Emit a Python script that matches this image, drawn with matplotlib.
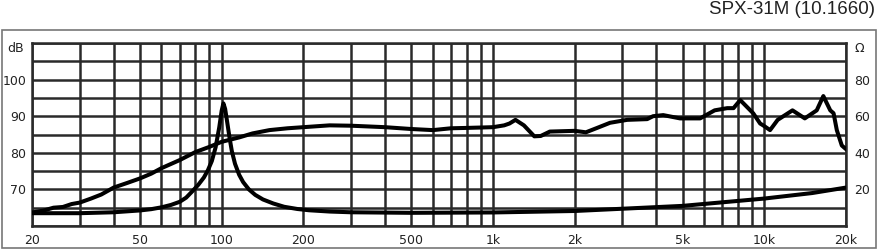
import matplotlib
matplotlib.use("Agg")
import matplotlib.pyplot as plt
from matplotlib.patches import Rectangle
from matplotlib.ticker import FixedLocator, NullFormatter

# Frequency response (dB)
spl_freq = [20, 22, 24, 26, 28, 30, 33, 36, 40, 45, 50, 55, 60, 70, 80, 90, 100,
            116, 130, 150, 175, 200, 250, 300, 400, 500, 600, 700, 800, 1000,
            1100, 1150, 1210, 1300, 1420, 1500, 1620, 2000, 2200, 2420, 2700,
            3120, 3700, 3890, 4240, 4890, 5800, 6560, 7300, 7700, 8150, 9100,
            9650, 9900, 10500, 11200, 12700, 14100, 15600, 16500, 17500, 18000,
            18500, 19300, 20000]
spl_db = [63.7, 64.2, 65.0, 65.2, 66.0, 66.4, 67.5, 68.6, 70.5, 71.8, 73.0, 74.3,
          75.8, 78.0, 80.2, 81.6, 83.0, 84.2, 85.3, 86.2, 86.7, 87.0, 87.5, 87.4,
          87.0, 86.5, 86.2, 86.7, 86.8, 87.0, 87.5, 88.0, 89.0, 87.5, 84.5, 84.6,
          85.8, 86.0, 85.6, 86.8, 88.2, 89.0, 89.2, 90.0, 90.3, 89.4, 89.4, 91.6,
          92.2, 92.2, 94.4, 90.8, 88.0, 87.5, 86.2, 89.0, 91.6, 89.4, 91.6, 95.5,
          91.6, 90.8, 86.2, 82.0, 81.0]

# Impedance (Ohm)
imp_freq = [20, 30, 40, 50, 55, 60, 65, 70, 74, 78, 82, 86, 89, 92, 95, 98, 100,
            101.5, 103, 105, 107, 109, 112, 116, 120, 126, 133, 142, 155, 170,
            190, 210, 250, 300, 500, 1000, 2000, 5000, 10000, 15000, 20000]
imp_ohm = [7.0, 7.0, 7.5, 8.5, 9.2, 10.2, 11.5, 13.2, 15.5, 19.0, 22.5, 26.5,
           30.5, 35.5, 43.0, 54.0, 63.0, 67.0, 64.0, 56.0, 48.0, 41.0, 34.0,
           28.0, 24.0, 20.0, 17.0, 14.5, 12.3, 10.5, 9.3, 8.6, 7.9, 7.5, 7.2,
           7.4, 8.2, 11.0, 15.0, 18.0, 21.0]

x_major = [20, 50, 100, 200, 500, 1000, 2000, 5000, 10000, 20000]
x_labels = ["20", "50", "100", "200", "500", "1k", "2k", "5k", "10k", "20k"]
db_ticks = [70, 80, 90, 100]
ohm_ticks = [20, 40, 60, 80]
title = "SPX-31M (10.1660)"

W, H = 877, 250
fig = plt.figure(figsize=(W / 100, H / 100), dpi=100)
fig.patch.set_facecolor("white")

# outer frame
fig.add_artist(Rectangle((1.5 / W, 1 - 248 / H), 874 / W, 218 / H,
                         transform=fig.transFigure, fill=False,
                         edgecolor="#777777", linewidth=1.2))

ax = fig.add_axes([32 / W, 1 - 226 / H, 814 / W, 183 / H])
ax.set_xscale("log")
ax.set_xlim(20, 20000)
ax.set_ylim(60, 110)

minor = []
for dec in [10, 100, 1000, 10000]:
    for m in range(1, 10):
        v = dec * m
        if 20 <= v <= 20000 and v not in x_major:
            minor.append(v)
ax.xaxis.set_major_locator(FixedLocator(x_major))
ax.xaxis.set_minor_locator(FixedLocator(minor))
ax.xaxis.set_minor_formatter(NullFormatter())
ax.set_xticklabels(x_labels)
ax.set_yticks(list(range(60, 111, 5)))
ax.set_yticklabels([str(v) if v in db_ticks else "" for v in range(60, 111, 5)])

gc = "#2a2a2a"
ax.grid(True, which="both", axis="x", color=gc, linewidth=1.8)
ax.grid(True, which="major", axis="y", color=gc, linewidth=1.8)
ax.set_axisbelow(True)
for s in ax.spines.values():
    s.set_color(gc)
    s.set_linewidth(1.8)
ax.tick_params(which="both", length=0, labelsize=9, colors="#222222")
ax.tick_params(axis="x", pad=6)
ax.tick_params(axis="y", pad=4)

ax.plot(spl_freq, spl_db, color="black", linewidth=2.9, solid_joinstyle="round",
        solid_capstyle="round", zorder=3)

ax2 = ax.twinx()
ax2.set_ylim(0, 100)
ax2.set_yticks(ohm_ticks)
ax2.set_yticklabels([str(v) for v in ohm_ticks])
ax2.tick_params(length=0, labelsize=9, colors="#222222", pad=6)
for s in ax2.spines.values():
    s.set_visible(False)
ax2.plot(imp_freq, imp_ohm, color="black", linewidth=2.9, solid_joinstyle="round",
         solid_capstyle="round", zorder=3)

fig.text(16 / W, 1 - 48 / H, "dB", ha="center", va="center", fontsize=9, color="#222222")
fig.text(859 / W, 1 - 48 / H, "Ω", ha="center", va="center", fontsize=9, color="#222222")
fig.text(875 / W, 1 - 10 / H, title, ha="right", va="center", fontsize=13.5,
         family="Liberation Sans", color="#222222")

fig.savefig("out.png", dpi=100, facecolor="white")
